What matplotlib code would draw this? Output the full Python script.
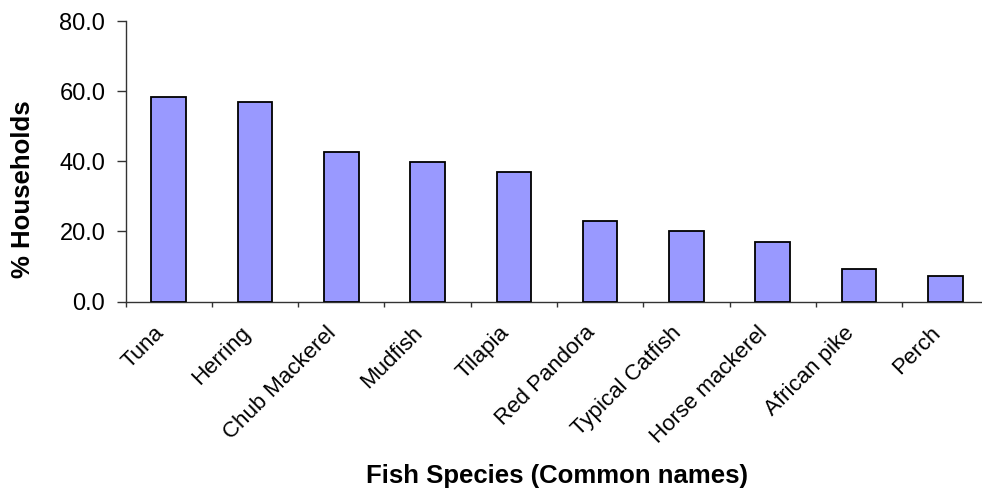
import matplotlib
matplotlib.use("Agg")
import matplotlib.pyplot as plt
import numpy as np

species = ["Tuna", "Herring", "Chub Mackerel", "Mudfish", "Tilapia",
           "Red Pandora", "Typical Catfish", "Horse mackerel", "African pike", "Perch"]
households_pct = [58.2, 56.9, 42.7, 39.8, 37.0, 22.9, 20.1, 17.0, 9.2, 7.4]
y_ticks = [0, 20, 40, 60, 80]

plt.rcParams["font.family"] = ["Liberation Sans", "DejaVu Sans"]

fig = plt.figure(figsize=(9.82, 4.94), dpi=100)
ax = fig.add_axes([125.5 / 982, 192.5 / 494, 863 / 982, 280.5 / 494])

x = np.arange(len(species))
ax.bar(x, households_pct, width=0.4, color="#9999FF", edgecolor="black",
       linewidth=1.3, zorder=3)

ax.set_xlim(-0.5, len(species) - 0.5)
ax.set_ylim(0, 80)
ax.set_yticks(y_ticks)
ax.set_yticklabels([f"{v:.1f}" for v in y_ticks])

# category separators as major ticks; slanted names on minor ticks,
# set slightly left of each bar centre so the text ends under the bar
ax.set_xticks(np.arange(-0.5, len(species) + 0.5, 1.0))
ax.set_xticklabels([])
ax.set_xticks(x - 0.18, minor=True)
ax.set_xticklabels(species, minor=True, rotation=45, ha="right",
                   va="top", rotation_mode="anchor", fontsize=16)

ax.tick_params(axis="x", which="major", direction="out", length=3.6,
               width=1, color="#333333")
ax.tick_params(axis="x", which="minor", length=0, pad=15)
ax.tick_params(axis="y", direction="out", length=6.5, width=1,
               color="#333333", labelsize=17, pad=8)

for side in ("top", "right"):
    ax.spines[side].set_visible(False)
for side in ("left", "bottom"):
    ax.spines[side].set_color("#333333")
    ax.spines[side].set_linewidth(1)

ax.set_ylabel("% Households", fontsize=18.5, fontweight="bold", va="center")
ax.yaxis.set_label_coords(-0.1188, 0.401)
ax.set_xlabel("Fish Species (Common names)", fontsize=18.5, fontweight="bold",
              va="center")
ax.xaxis.set_label_coords(0.5, -0.622)

fig.savefig("out.png", dpi=100)
